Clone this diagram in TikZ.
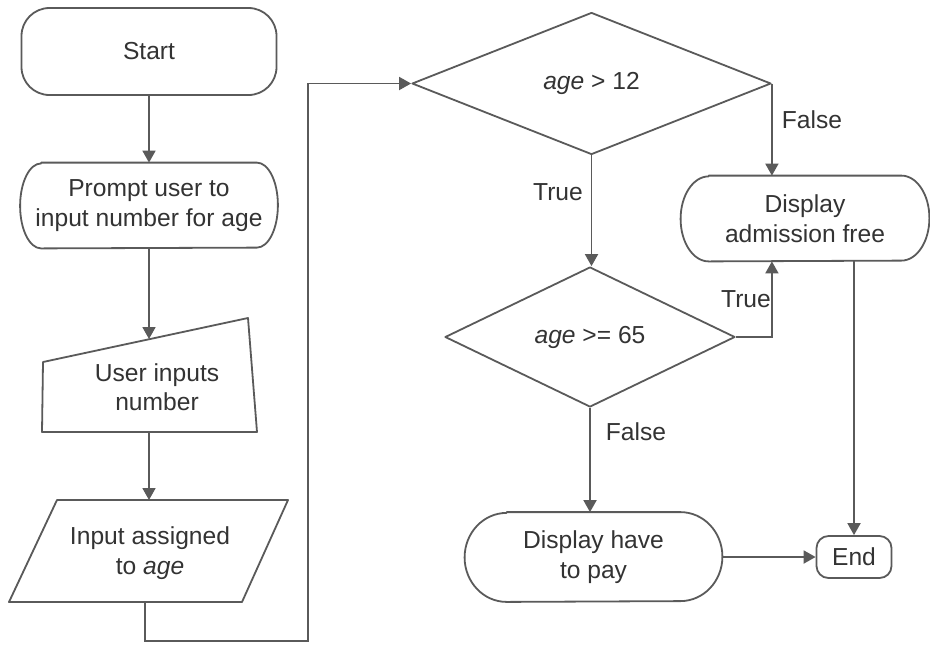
\documentclass[tikz,border=0pt]{standalone}
\usepackage{fontspec}
\setmainfont{Liberation Sans}
\usetikzlibrary{shapes.geometric,arrows.meta,calc}
\definecolor{lc}{HTML}{5A5A5A}
\definecolor{tc}{HTML}{333333}
\tikzset{
  txt/.style={font=\fontsize{12.3pt}{14.8pt}\selectfont, text=tc, align=center},
  shp/.style={draw=lc, line width=0.9pt, line join=round},
  arr/.style={draw=lc, line width=0.9pt, -{Triangle[length=6pt,width=6.5pt]}},
  lin/.style={draw=lc, line width=0.9pt},
  lbl/.style={txt, inner sep=0pt},
  decis/.style={txt, shp, diamond, inner sep=0pt},
}
\newcommand\termshape[7]{%
  \node[txt, minimum width=#4, minimum height=#5, inner sep=0pt] (#1) at (#2,#3) {#7};
  \draw[shp] ($(#1.north west)+(#6,0pt)$) -- ($(#1.north east)-(#6,0pt)$)
     arc[start angle=90,end angle=-90,x radius=#6,y radius=#5/2]
     -- ($(#1.south west)+(#6,0pt)$)
     arc[start angle=270,end angle=90,x radius=#6,y radius=#5/2] -- cycle;}
\begin{document}
\begin{tikzpicture}[x=0.5pt,y=0.5pt]
\useasboundingbox[fill=white] (0,0) rectangle (930,-644);

% Start
\node[txt, shp, rounded corners=14pt, minimum width=127.5pt, minimum height=43.5pt, inner sep=0pt] (start) at (149,-51.5) {Start};
% Prompt
\termshape{prompt}{149}{-205.5}{128.5pt}{42.5pt}{10.5pt}{Prompt user to\\input number for age}
% Manual input
\draw[shp] (43,-362) -- (248,-318) -- (257,-432) -- (42,-432) -- cycle;
\node[txt] (uin) at (157,-387) {User inputs\\number};
\coordinate (uintop) at (149,-339);
\coordinate (uinbot) at (149,-432);
% Parallelogram
\draw[shp] (57,-500) -- (288,-500) -- (242,-602) -- (9,-602) -- cycle;
\node[txt] (ia) at (150,-553) {Input assigned\\to \textit{age}};
\coordinate (iatop) at (149,-500);
\coordinate (iabot) at (145,-602);
\coordinate (loopa) at (145,-641);
\coordinate (loopb) at (308,-641);
\coordinate (loopc) at (308,-83.5);

% Decisions
\node[decis, minimum width=179.5pt, minimum height=71pt] (d1) at (591.5,-83.5) {\raisebox{2pt}{\textit{age} > 12}};
\node[decis, minimum width=145pt, minimum height=70pt] (d2) at (590,-337) {\textit{age} >= 65};

% Display nodes
\termshape{daf}{805}{-218.5}{124pt}{42.5pt}{14pt}{Display\\admission free}
\termshape{dhp}{593.5}{-557}{128.5pt}{44.5pt}{21pt}{Display have\\to pay}
\node[txt, shp, rounded corners=6pt, minimum width=37.5pt, minimum height=21pt, inner sep=0pt] (end) at (854,-557) {End};

% Connectors
\draw[arr] (start.south) -- (prompt.north);
\draw[arr] (prompt.south) -- (uintop);
\draw[arr] (uinbot) -- (iatop);
\draw[arr] (iabot) -- (loopa) -- (loopb) -- (loopc) -- (d1.west);
\draw[arr] (d1.south) -- (d1.south |- d2.north);
\draw[arr] (d1.east) -- (d1.east |- daf.north);
\draw[arr] (d2.east) -| (d1.east |- daf.south);
\draw[arr] (d2.south) -- (d2.south |- dhp.north);
\draw[arr] (dhp.east) -- (end.west);
\draw[arr] (end.north |- daf.south) -- (end.north);

% Labels
\node[lbl] (lf1) at (812,-120) {False};
\node[lbl] (lt1) at (558,-192) {True};
\node[lbl] (lt2) at (746,-299) {True};
\node[lbl] (lf2) at (636,-432) {False};
\end{tikzpicture}
\end{document}
